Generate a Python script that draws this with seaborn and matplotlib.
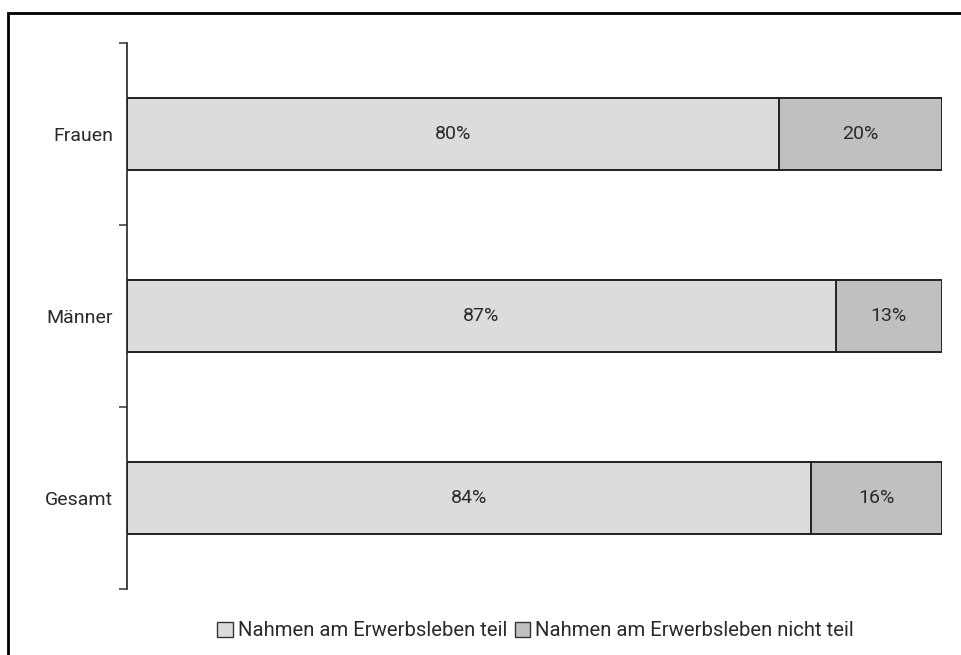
import pandas as pd
import matplotlib.pyplot as plt
import seaborn as sns
from matplotlib.patches import Patch, Rectangle

sns.set_theme(style="white")
plt.rcParams["font.family"] = ["Roboto", "DejaVu Sans"]

gruppen = ["Frauen", "Männer", "Gesamt"]
teil = [80, 87, 84]
nicht_teil = [20, 13, 16]
legende = ["Nahmen am Erwerbsleben teil", "Nahmen am Erwerbsleben nicht teil"]

hell = "#dcdcdc"
dunkel = "#c0c0c0"
fs = 14

df = pd.DataFrame({"Gruppe": gruppen, "teil": teil, "nicht": nicht_teil})
df["gesamt"] = df["teil"] + df["nicht"]

fig = plt.figure(figsize=(9.62, 6.55), dpi=100)
ax = fig.add_axes([0.132, 0.1008, 0.847, 0.8336])

# stacked: full bar in dark grey, then the "teil" part on top
sns.barplot(data=df, x="gesamt", y="Gruppe", orient="h", color=dunkel, saturation=1,
            width=0.4, edgecolor="#222222", linewidth=1.4, ax=ax)
sns.barplot(data=df, x="teil", y="Gruppe", orient="h", color=hell, saturation=1,
            width=0.4, edgecolor="#222222", linewidth=1.4, ax=ax)

for i, row in df.iterrows():
    ax.text(row["teil"] / 2, i, f"{row['teil']}%", ha="center", va="center", fontsize=fs, color="#2a2a2a")
    ax.text(row["teil"] + row["nicht"] / 2, i, f"{row['nicht']}%", ha="center", va="center",
            fontsize=fs, color="#2a2a2a")

ax.set_xlim(0, 100)
ax.set_ylim(2.5, -0.5)
ax.set_xlabel("")
ax.set_ylabel("")
ax.set_xticks([])
for s in ["top", "right", "bottom"]:
    ax.spines[s].set_visible(False)
ax.spines["left"].set_color("#222222")
ax.spines["left"].set_linewidth(1.2)
ax.set_yticks([-0.5, 0.5, 1.5, 2.5], minor=True)
ax.tick_params(axis="y", which="major", length=0, pad=10, labelsize=fs, labelcolor="#2a2a2a")
ax.tick_params(axis="y", which="minor", left=True, length=6, width=1.2, color="#444444", direction="out")

handles = [Patch(facecolor=hell, edgecolor="#333333", linewidth=1),
           Patch(facecolor=dunkel, edgecolor="#333333", linewidth=1)]
fig.legend(handles, legende, loc="center", bbox_to_anchor=(0.557, 0.037), ncol=2, frameon=False,
           fontsize=14.6, handlelength=0.75, handleheight=0.75, handletextpad=0.25, columnspacing=0.4,
           labelcolor="#2a2a2a")

# outer frame (left and top edges visible)
fig.add_artist(Rectangle((8 / 962, -0.1), 1.2, 1.1 - 13 / 655, transform=fig.transFigure,
                         fill=False, edgecolor="black", linewidth=2))

fig.savefig("out.png", dpi=100)
